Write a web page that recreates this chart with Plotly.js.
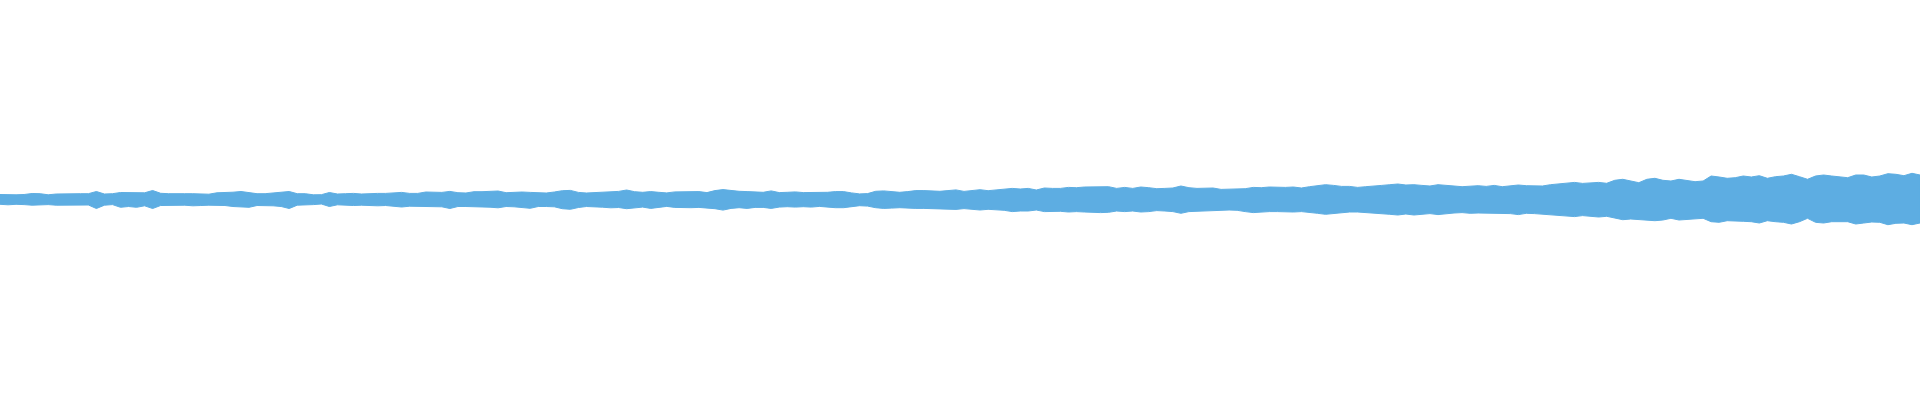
<!DOCTYPE html>
<html>
<head>
<meta charset="utf-8">
<script src="https://cdn.plot.ly/plotly-3.0.1.min.js"></script>
<style>html,body{margin:0;padding:0;background:#fff;}#chart{width:1920px;height:400px;}</style>
</head>
<body>
<div id="chart"></div>
<script>
// Waveform envelope, read per 8-pixel time bucket (arbitrary amplitude units, full scale = 200)
const upperPeak = [
5.5,5.2,5.2,5.5,6.5,6.3,5.2,6,6.3,6.3,6.3,6.3,8.5,6,6.3,7.5,7.2,7.5,7.2,9.5,6.7,6.3,6,6.3,6.3,6.3,5.8,7.2,7.2,7.8,8.5,7.5,6.3,6.3,7,7.2,8.5,6.3,6.3,5.2,
5.3,7.5,6,6.3,6.6,6,6.6,6.6,6.6,7.3,7.6,6.6,6.6,8,7.6,7.6,8.6,7.3,7,8.3,8.3,8.3,9,7.3,8,8,7.6,7.3,7,8,9.3,9.6,7.6,7,7.3,8,8.3,8.6,10,8.3,
7.7,8.4,7.7,7.1,8.1,8.4,8.7,8.4,7.4,9.4,10.4,9.4,8.7,8.4,7.7,7.7,9.1,7.4,7.7,8.1,7.4,7.4,7.1,7.7,8.4,8.4,7.1,6.1,6.4,8.7,9.1,8.4,7.7,8.4,9.4,9.4,9.1,8.7,9.4,10.1,
8.6,9.3,10.3,9.3,10.3,10.6,11.6,11,11.6,10,12,11.6,11.6,12.6,12.3,13,13,13.6,13.3,11.6,12.6,11.6,13,12.3,11.3,11.6,12,14,12.3,11.6,11.6,12,10.6,10.6,11,11.3,12.6,12.3,13,12.6,
12.6,13,12,13.3,14.3,15.3,14.6,13.6,13.6,12.6,13.3,14.3,14.6,15.3,16,15,15.3,14.6,14,15.3,14.3,14,13.3,14,14.3,13.6,14.6,13.3,14,15,14.3,14,14,15.3,16,16.6,17.6,16.6,17,17.6,
16.7,19.7,20.7,19,17.3,20.7,21.7,19.7,19,20.7,19.7,18.3,19,24,23,21.7,22.3,24,23,24.3,21.7,23.3,24,25.7,23.3,20.7,24,25,24,23,22.3,25,25,23,24,26.3,25.7,24.3,26.7,25
];
const lowerPeak = [
4.3,4.8,4.3,4.6,5.2,5.2,4.6,5.2,5.7,5.5,5.2,5,8.5,5.2,4.6,7.3,6.5,7.3,5.8,8.5,5.5,5.5,5.2,5.2,5.8,5.5,5.2,5.2,5.5,6.5,7,7.3,5.5,5.5,5.8,6.5,8.5,5.2,5,4.6,
4,6.5,4.8,5.2,5.5,5.2,5.2,5.8,5.5,6.2,7,6.2,6.5,6.2,6.5,6.8,8.5,6.5,6.5,6.8,6.8,7.2,7.8,6.5,6.8,7.2,8.3,6.5,6.5,6.8,8.7,9.3,7.5,6.5,6.8,7.2,7.8,7.5,8.7,7.8,
7.1,8.4,7.1,6.4,7.4,7.7,7.7,7.4,7.7,8.7,10.1,8.4,7.7,8.4,7.4,7.4,8.4,7.1,6.7,7.1,6.7,7.1,6.4,7.1,7.7,7.7,6.7,5.7,6.1,7.7,8.4,8.1,7.7,7.7,8.4,8.4,8.7,8.4,9.1,9.4,
8.6,9.3,10,9.3,10,10.3,11.6,11,11,10,11.6,11.3,11.3,12,11.6,12,12,12.6,12.3,11,11.6,11,12,11.6,10.6,11,11.6,13.3,11.6,11,11.3,11,10.3,10,10.3,11.6,12.6,12,11.6,11.6,
11.6,12,11.6,12.6,13.3,14.3,13.6,13,12,12,12.3,13,13.6,14.3,15,14,15,14,13.6,14.6,13.6,13,12.6,13.3,13,13,13.6,13.3,13.6,14.6,13.3,13.6,13.6,14.6,15,16,16.6,15.6,16,17,
16.3,18.3,19.7,19,19,20,20.7,20,18.3,20,20,19,18.3,21.7,22.3,20.7,21.3,21.3,21.7,23,20.7,21.7,22.3,24,21.7,18.3,22.3,23,21.7,21.7,21.7,24,23,22,22.3,24.7,23.3,23,24.7,23
];

const n = upperPeak.length;
const idx = upperPeak.map((_, i) => i);
const xs = idx.concat(idx.slice().reverse());
const ys = upperPeak.concat(lowerPeak.map(v => -v).reverse());

const trace = {
  x: xs, y: ys, type: 'scatter', mode: 'lines',
  fill: 'toself', fillcolor: '#5DADE2',
  line: {color: '#5DADE2', width: 1},
  hoverinfo: 'skip'
};

const layout = {
  width: 1920, height: 400,
  margin: {l: 0, r: 0, t: 0, b: 0, pad: 0},
  paper_bgcolor: '#ffffff', plot_bgcolor: '#ffffff',
  showlegend: false,
  xaxis: {range: [0, n - 1], visible: false, fixedrange: true},
  yaxis: {range: [-200, 200], visible: false, fixedrange: true}
};

Plotly.newPlot('chart', [trace], layout, {staticPlot: true, displayModeBar: false});
</script>
</body>
</html>
